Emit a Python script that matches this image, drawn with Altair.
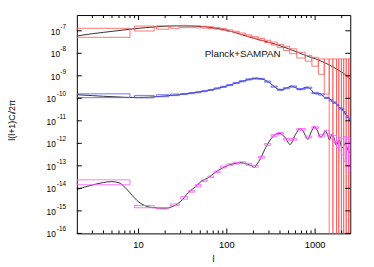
import altair as alt
import pandas as pd

# ---------------- theory curves: multipole l and log10[l(l+1)C_l/2pi] ----------------
pp_l = [2, 3, 4, 6, 8, 12, 18, 27, 40, 59, 80, 110, 152, 200, 260, 357, 500, 650, 835,
        1000, 1300, 1672, 2000, 2200, 2500]
pp_v = [-7.23, -7.13, -7.07, -6.99, -6.93, -6.86, -6.81, -6.78, -6.79, -6.83, -6.90, -7.02,
        -7.19, -7.33, -7.45, -7.60, -7.80, -7.97, -8.14, -8.24, -8.43, -8.65, -8.84, -8.95, -9.17]

tt_l = [2, 3, 4, 6, 8, 10, 13, 17, 22, 27, 35, 45, 60, 76, 100, 130, 160, 190, 220, 250,
        290, 330, 370, 410, 460, 540, 610, 680, 750, 820, 900, 1000, 1070, 1130, 1220,
        1300, 1370, 1430, 1520, 1600, 1670, 1740, 1820, 1900, 1970, 2040, 2150, 2300, 2420, 2500]
tt_v = [-9.84, -9.88, -9.91, -9.94, -9.96, -9.96, -9.95, -9.92, -9.88, -9.85, -9.80, -9.74,
        -9.66, -9.57, -9.45, -9.31, -9.21, -9.14, -9.11, -9.14, -9.25, -9.42, -9.57, -9.63,
        -9.57, -9.46, -9.54, -9.62, -9.53, -9.51, -9.62, -9.80, -9.80, -9.79, -9.89, -9.98,
        -9.98, -9.99, -10.09, -10.19, -10.20, -10.22, -10.33, -10.44, -10.46, -10.49, -10.62,
        -10.80, -10.93, -11.00]

ee_l = [2, 3, 4, 5, 6, 7, 8, 10, 12, 15, 20, 25, 30, 37, 45, 52, 60, 80, 100, 120, 145, 170,
        190, 205, 220, 240, 276, 310, 357, 390, 420, 460, 520, 600, 680, 740, 830, 900, 980,
        1050, 1150, 1220, 1300, 1380, 1450, 1550, 1650, 1730, 1880, 2020, 2200, 2350, 2500]
ee_v = [-14.05, -13.85, -13.74, -13.70, -13.75, -13.95, -14.2, -14.6, -14.78, -14.86, -14.88,
        -14.78, -14.58, -14.17, -13.9, -13.67, -13.55, -13.2, -13.0, -12.9, -12.86, -12.92,
        -13.0, -13.07, -12.92, -12.68, -12.18, -11.85, -11.6, -11.55, -11.6, -11.75, -12.05,
        -11.6, -11.34, -11.5, -11.82, -11.5, -11.27, -11.4, -11.72, -11.65, -11.45, -11.6,
        -11.85, -11.59, -11.8, -12.08, -11.85, -12.21, -11.99, -12.3, -12.43]

# ---------------- binned forecast boxes (l range, log10 low / high) ----------------
bin_lo = [2, 9, 16, 23, 30, 37, 44, 52, 61, 72, 85, 100, 118, 139, 164, 193, 228, 268, 316,
          372, 438, 516, 620, 773, 918, 1089, 1270, 1444, 1589, 1748, 1854, 1985, 2106, 2249, 2399]
bin_hi = [8, 15, 22, 29, 36, 43, 51, 60, 71, 84, 99, 117, 138, 163, 192, 227, 267, 315, 371,
          437, 515, 619, 772, 917, 1088, 1269, 1443, 1588, 1747, 1853, 1984, 2105, 2248, 2398, 2499]

pp_lo = [-7.29, -7.01, -6.93, -6.89, -6.86, -6.86, -6.87, -6.88, -6.90, -6.93, -6.97, -7.03,
         -7.09, -7.17, -7.25, -7.33, -7.42, -7.52, -7.63, -7.75, -7.88, -8.02, -8.21, -8.35,
         -8.57, -8.93, -9.81, -20, -20, -20, -20, -20, -20, -20, -20]
pp_hi = [-6.89, -6.79, -6.78, -6.77, -6.76, -6.77, -6.78, -6.80, -6.82, -6.86, -6.90, -6.96,
         -7.02, -7.10, -7.18, -7.26, -7.34, -7.42, -7.50, -7.60, -7.69, -7.80, -7.95, -8.09,
         -8.18, -8.25, -8.25, -8.25, -8.25, -8.25, -8.25, -8.25, -8.25, -8.25, -8.25]

tt_lo = [-9.97, -9.98, -9.93, -9.88, -9.835, -9.795, -9.755, -9.705, -9.655, -9.585, -9.515,
         -9.435, -9.345, -9.265, -9.185, -9.145, -9.165, -9.285, -9.505, -9.645, -9.575,
         -9.505, -9.615, -9.555, -9.785, -9.855, -10.005, -10.115, -10.225, -10.335, -10.475,
         -10.54, -10.69, -10.87, -10.99]
tt_hi = [-9.80, -9.87, -9.84, -9.81, -9.785, -9.745, -9.705, -9.655, -9.605, -9.535, -9.465,
         -9.385, -9.295, -9.215, -9.135, -9.095, -9.115, -9.235, -9.455, -9.595, -9.525,
         -9.455, -9.565, -9.505, -9.735, -9.805, -9.955, -10.045, -10.155, -10.265, -10.405,
         -10.44, -10.59, -10.77, -10.89]

ee_lo = [-13.84, -14.86, -14.92, -14.77, -14.48, -14.17, -13.93, -13.69, -13.52, -13.30,
         -13.09, -12.99, -12.92, -12.90, -12.97, -13.06, -12.66, -12.09, -11.69, -11.60,
         -11.86, -11.86, -11.42, -11.76, -11.34, -11.72, -11.58, -11.8, -11.95, -12.2, -12.3,
         -12.5, -12.8, -13.0, -13.3]
ee_hi = [-13.62, -14.76, -14.85, -14.69, -14.37, -14.09, -13.83, -13.62, -13.45, -13.23,
         -13.01, -12.91, -12.84, -12.82, -12.89, -12.98, -12.58, -12.01, -11.61, -11.52,
         -11.78, -11.78, -11.34, -11.68, -11.26, -11.60, -11.42, -11.6, -11.65, -11.9, -11.75,
         -11.8, -11.7, -11.75, -11.7]

# ---------------- axis ticks ----------------
y_major_exp = [-16, -15, -14, -13, -12, -11, -10, -9, -8, -7]
x_major = [10, 100, 1000]
x_major_text = ["10", "100", "1000"]
x_minor = [3, 4, 5, 6, 7, 8, 9, 20, 30, 40, 50, 60, 70, 80, 90,
           200, 300, 400, 500, 600, 700, 800, 900, 2000]

series = ["pp", "tt", "ee"]
box_colors = ["#ff5c5c", "#5a5aff", "#ff5cff"]

W, H = 278, 222
FONT = "Liberation Sans"

xs = alt.Scale(type="log", domain=[2, 2500], nice=False)
ys = alt.Scale(type="log", domain=[1e-16, 5e-7], nice=False)

curves = pd.concat([
    pd.DataFrame({"l": pp_l, "v": [10 ** v for v in pp_v], "s": "pp"}),
    pd.DataFrame({"l": tt_l, "v": [10 ** v for v in tt_v], "s": "tt"}),
    pd.DataFrame({"l": ee_l, "v": [10 ** v for v in ee_v], "s": "ee"}),
], ignore_index=True)

boxes = pd.concat([
    pd.DataFrame({"l1": bin_lo, "l2": bin_hi, "lo": [10 ** v for v in lo],
                  "hi": [10 ** v for v in hi], "s": s})
    for s, lo, hi in [("pp", pp_lo, pp_hi), ("tt", tt_lo, tt_hi), ("ee", ee_lo, ee_hi)]
], ignore_index=True)

line_layer = alt.Chart(curves).mark_line(
    color="#1a1a1a", strokeWidth=0.9, interpolate="monotone", clip=True
).encode(
    x=alt.X("l:Q", scale=xs, axis=None),
    y=alt.Y("v:Q", scale=ys, axis=None),
    detail="s:N",
)

box_layer = alt.Chart(boxes).mark_rect(
    fillOpacity=0, strokeWidth=0.85, clip=True
).encode(
    x=alt.X("l1:Q", scale=xs, axis=None),
    x2="l2:Q",
    y=alt.Y("lo:Q", scale=ys, axis=None),
    y2="hi:Q",
    stroke=alt.Stroke("s:N", scale=alt.Scale(domain=series, range=box_colors), legend=None),
)

ytk = pd.DataFrame({"v": [10.0 ** e for e in y_major_exp],
                    "e": [str(e) for e in y_major_exp]})
xtk = pd.DataFrame({"l": x_major, "t": x_major_text})
xmn = pd.DataFrame({"l": x_minor})

Y = alt.Y("v:Q", scale=ys, axis=None)
Xt = alt.X("l:Q", scale=xs, axis=None)

ytick_left = alt.Chart(ytk).mark_rule(color="black", strokeWidth=1).encode(
    y=Y, x=alt.value(0), x2=alt.value(5))
ytick_right = alt.Chart(ytk).mark_rule(color="black", strokeWidth=1).encode(
    y=Y, x=alt.value(W - 5), x2=alt.value(W))
xtick_bot = alt.Chart(xtk).mark_rule(color="black", strokeWidth=1).encode(
    x=Xt, y=alt.value(H), y2=alt.value(H - 5))
xtick_top = alt.Chart(xtk).mark_rule(color="black", strokeWidth=1).encode(
    x=Xt, y=alt.value(0), y2=alt.value(5))
xmin_bot = alt.Chart(xmn).mark_rule(color="black", strokeWidth=1).encode(
    x=Xt, y=alt.value(H), y2=alt.value(H - 3))
xmin_top = alt.Chart(xmn).mark_rule(color="black", strokeWidth=1).encode(
    x=Xt, y=alt.value(0), y2=alt.value(3))

# y tick labels: "10" with superscript exponent
ytk1 = ytk[ytk["e"].str.len() == 2]
ytk2 = ytk[ytk["e"].str.len() == 3]
ylab_base1 = alt.Chart(ytk1).mark_text(
    align="right", baseline="middle", fontSize=8.5, font=FONT, dy=1, color="black"
).encode(y=Y, x=alt.value(-17), text=alt.value("10"))
ylab_base2 = alt.Chart(ytk2).mark_text(
    align="right", baseline="middle", fontSize=8.5, font=FONT, dy=1, color="black"
).encode(y=Y, x=alt.value(-21.3), text=alt.value("10"))
ylab_exp = alt.Chart(ytk).mark_text(
    align="right", baseline="middle", fontSize=6.5, font=FONT, dy=-4, color="black"
).encode(y=Y, x=alt.value(-11), text="e:N")

xlab = alt.Chart(xtk).mark_text(
    align="center", baseline="middle", fontSize=9.5, font=FONT, color="black"
).encode(x=Xt, y=alt.value(H + 12), text="t:N")

ytitle = alt.Chart(pd.DataFrame({"t": ["l(l+1)C\u2097/2\u03c0"]})).mark_text(
    align="center", baseline="middle", angle=270, fontSize=9, font=FONT, color="black"
).encode(x=alt.value(-66), y=alt.value(H / 2 - 4), text="t:N")

xtitle = alt.Chart(pd.DataFrame({"t": ["l"]})).mark_text(
    align="center", baseline="middle", fontSize=9, font=FONT, color="black"
).encode(x=alt.value(W / 2), y=alt.value(H + 26), text="t:N")

label = alt.Chart(pd.DataFrame({"t": ["Planck+SAMPAN"]})).mark_text(
    align="left", baseline="middle", fontSize=10, font=FONT, color="#111111"
).encode(x=alt.value(130), y=alt.value(40), text="t:N")

chart = alt.layer(
    line_layer, box_layer,
    ytick_left, ytick_right, xtick_bot, xtick_top, xmin_bot, xmin_top,
    ylab_base1, ylab_base2, ylab_exp, xlab, ytitle, xtitle, label,
).properties(
    width=W, height=H,
    autosize=alt.AutoSizeParams(type="none"),
    padding={"left": 70, "top": 5, "right": 16, "bottom": 32},
    background="white",
).configure_view(stroke="black", strokeWidth=1)

chart.save("out.html", embed_options={"renderer": "svg", "actions": False})
